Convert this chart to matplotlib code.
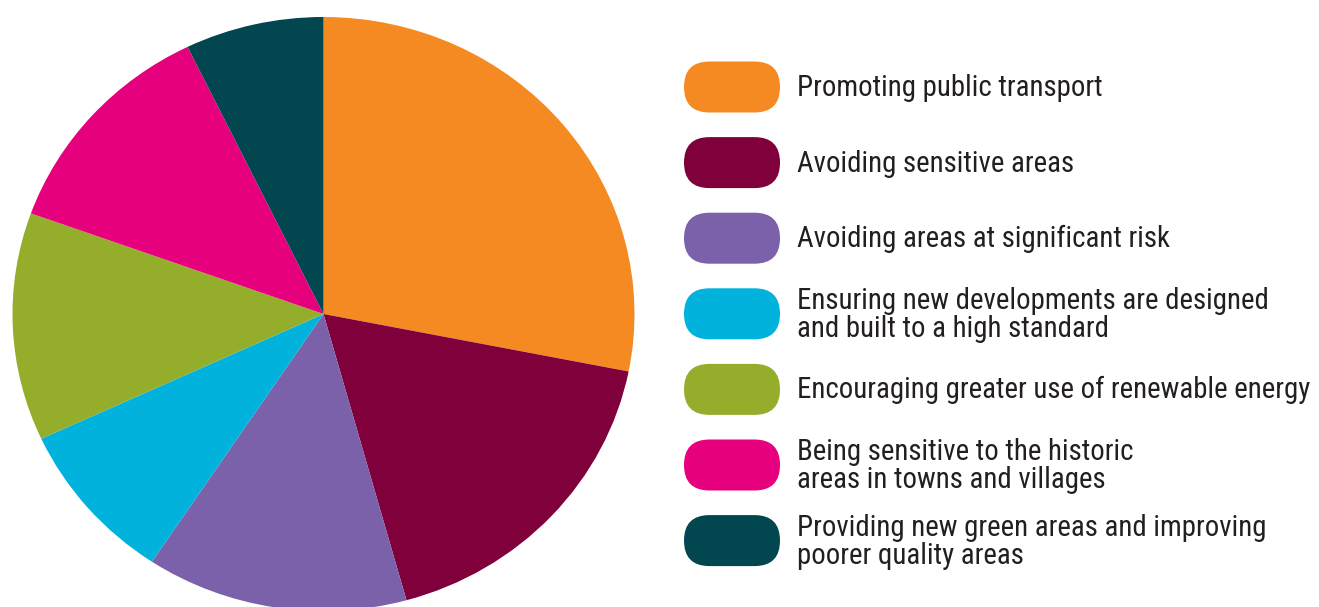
import matplotlib
matplotlib.use("Agg")
import matplotlib.pyplot as plt
from matplotlib.patches import FancyBboxPatch
from matplotlib import font_manager

# share of responses per option
labels = [
    "Promoting public transport",
    "Avoiding sensitive areas",
    "Avoiding areas at significant risk",
    "Ensuring new developments are designed\nand built to a high standard",
    "Encouraging greater use of renewable energy",
    "Being sensitive to the historic\nareas in towns and villages",
    "Providing new green areas and improving\npoorer quality areas",
]
values = [28.1, 17.6, 13.6, 8.8, 12.4, 12.3, 7.2]
colors = ["#F58A22", "#80003C", "#7A61A9", "#00B2DC", "#94AE2C", "#E6007D", "#02464F"]

names = set(f.name for f in font_manager.fontManager.ttflist)
font, fsize, lsp = "DejaVu Sans", 15, 1.15
for cand, sz, ls in [("Roboto Condensed", 20.8, 1.0),
                     ("Liberation Sans Narrow", 20, 1.0),
                     ("DejaVu Sans Condensed", 16, 1.1)]:
    if cand in names:
        font, fsize, lsp = cand, sz, ls
        break

W, H = 1319, 607
fig = plt.figure(figsize=(W / 100, H / 100), dpi=100)

# pie: slightly wider than tall, like the original
cx, cy, rx, ry = 323.5, 314, 311, 297
ax = fig.add_axes([(cx - rx) / W, (H - cy - ry) / H, 2 * rx / W, 2 * ry / H])
ax.pie(values, colors=colors, startangle=90, counterclock=False,
       wedgeprops=dict(linewidth=0))
ax.set_aspect("auto")
ax.set_xlim(-1, 1)
ax.set_ylim(-1, 1)
ax.axis("off")

# legend drawn in pixel coordinates
lg = fig.add_axes([0, 0, 1, 1])
lg.set_xlim(0, W)
lg.set_ylim(H, 0)
lg.axis("off")
lg.patch.set_alpha(0)

pw, ph = 96, 51
for i, (lab, col) in enumerate(zip(labels, colors)):
    yc = 87 + 75.6 * i
    pill = FancyBboxPatch((684 + ph / 2, yc), pw - ph, 0,
                          boxstyle="round,pad=%g,rounding_size=%g" % (ph / 2, ph / 2),
                          fc=col, ec="none")
    lg.add_patch(pill)
    lg.text(797, yc + 1, lab, fontsize=fsize, family=font, color="#231F20",
            va="center", ha="left", linespacing=lsp)

fig.savefig("out.png", dpi=100)
